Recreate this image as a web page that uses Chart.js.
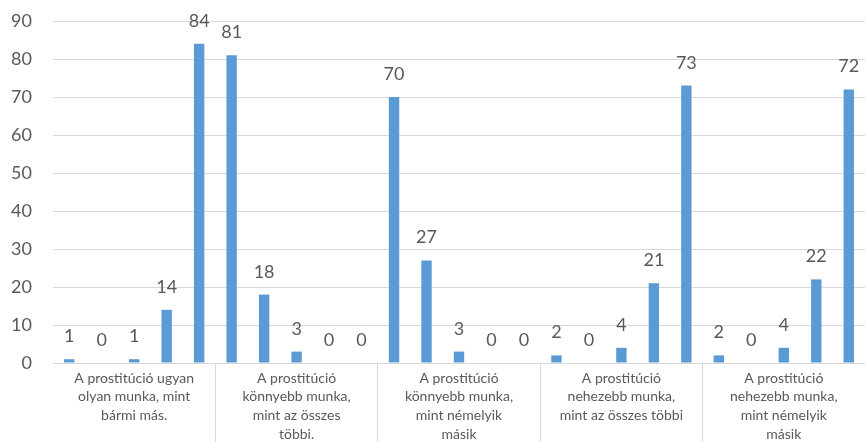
<!DOCTYPE html>
<html>
<head>
<meta charset="utf-8">
<script src="https://cdn.jsdelivr.net/npm/chart.js@4"></script>
<style>
  html, body { margin: 0; padding: 0; background: #fff; overflow: hidden; }
  #wrap { width: 865px; height: 442px; position: relative; }
</style>
</head>
<body>
<div id="wrap"><canvas id="chart"></canvas></div>
<script>
// categories (wrapped the way the original axis shows them)
const categories = [
    ['A prostitúció ugyan', 'olyan munka, mint', 'bármi más.'],
    ['A prostitúció', 'könnyebb munka,', 'mint az összes', 'többi.'],
    ['A prostitúció', 'könnyebb munka,', 'mint némelyik', 'másik'],
    ['A prostitúció', 'nehezebb munka,', 'mint az összes többi'],
    ['A prostitúció', 'nehezebb munka,', 'mint némelyik', 'másik']
];

// one array per answer level
const series1 = [1, 81, 70, 2, 2];
const series2 = [0, 18, 27, 0, 0];
const series3 = [1, 3, 3, 4, 4];
const series4 = [14, 0, 0, 21, 22];
const series5 = [84, 0, 0, 73, 72];

const yTicks = [0, 10, 20, 30, 40, 50, 60, 70, 80, 90];

const BLUE = '#5B9BD5';
const GRID = '#D9D9D9';
const TEXT = '#595959';
const FONT = 'Lato, "Liberation Sans", sans-serif';

// draws the value above each bar
const valueLabels = {
    id: 'valueLabels',
    afterDatasetsDraw(chart) {
        const ctx = chart.ctx;
        ctx.save();
        ctx.font = '18px ' + FONT;
        ctx.fillStyle = TEXT;
        ctx.textAlign = 'center';
        ctx.textBaseline = 'alphabetic';
        chart.data.datasets.forEach((ds, i) => {
            const meta = chart.getDatasetMeta(i);
            meta.data.forEach((bar, j) => {
                ctx.fillText(String(ds.data[j]), bar.x, bar.y - 17);
            });
        });
        ctx.restore();
    }
};

const seriesList = [series1, series2, series3, series4, series5];

new Chart(document.getElementById('chart'), {
    type: 'bar',
    data: {
        labels: categories,
        datasets: seriesList.map((s, i) => ({
            label: 'Sorozat' + (i + 1),
            data: s,
            backgroundColor: BLUE,
            borderWidth: 0,
            barPercentage: 0.32,
            categoryPercentage: 1.0
        }))
    },
    options: {
        responsive: true,
        maintainAspectRatio: false,
        animation: false,
        layout: { padding: { top: 21, left: 0, right: 0, bottom: 0 } },
        plugins: {
            legend: { display: false },
            tooltip: { enabled: false }
        },
        scales: {
            x: {
                afterFit: s => {
                    s.height = 79;
                    s.paddingLeft = 0;
                    s.paddingRight = 0;
                },
                grid: {
                    offset: true,
                    drawOnChartArea: false,
                    drawTicks: true,
                    tickLength: 79,
                    color: ctx => (ctx.index === 0 ? 'rgba(0,0,0,0)' : GRID),
                    lineWidth: 1
                },
                border: { display: true, color: GRID, width: 1 },
                ticks: {
                    color: TEXT,
                    font: { family: FONT, size: 14, lineHeight: 1.33 },
                    padding: -73,
                    maxRotation: 0,
                    autoSkip: false
                }
            },
            y: {
                min: 0,
                max: 90,
                afterFit: s => {
                    s.width = 53;
                    s.paddingTop = 0;
                    s.paddingBottom = 0;
                },
                afterBuildTicks: s => { s.ticks = yTicks.map(v => ({ value: v })); },
                grid: { color: GRID, drawTicks: false, lineWidth: 1 },
                border: { display: false },
                ticks: {
                    color: TEXT,
                    font: { family: FONT, size: 18 },
                    padding: 21
                }
            }
        }
    },
    plugins: [valueLabels]
});
</script>
</body>
</html>
